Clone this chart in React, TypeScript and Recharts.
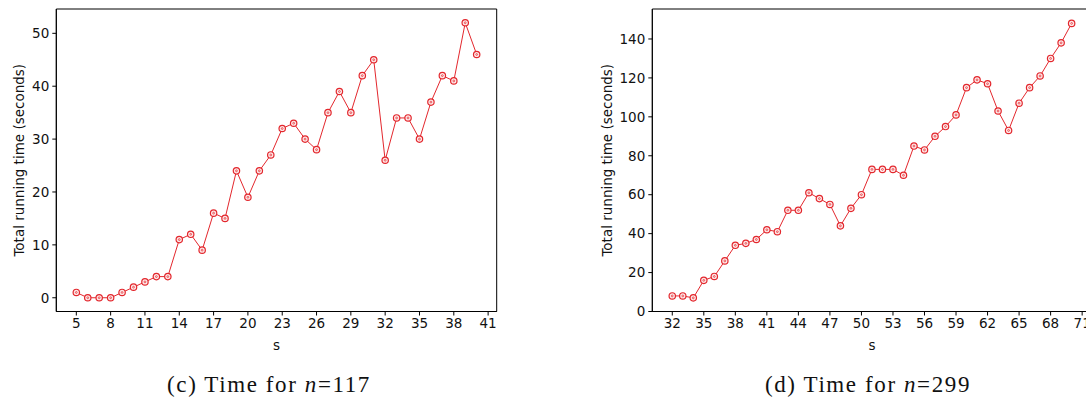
import React from 'react';
import { LineChart, Line, XAxis, YAxis, ReferenceArea } from 'recharts';

// Panel (c): n = 117
const sSmall = [5, 6, 7, 8, 9, 10, 11, 12, 13, 14, 15, 16, 17, 18, 19, 20, 21, 22, 23, 24, 25, 26, 27, 28, 29, 30, 31, 32, 33, 34, 35, 36, 37, 38, 39, 40];
const timeSmall = [1, 0, 0, 0, 1, 2, 3, 4, 4, 11, 12, 9, 16, 15, 24, 19, 24, 27, 32, 33, 30, 28, 35, 39, 35, 42, 45, 26, 34, 34, 30, 37, 42, 41, 52, 46];
const xTicksSmall = [5, 8, 11, 14, 17, 20, 23, 26, 29, 32, 35, 38, 41];
const yTicksSmall = [0, 10, 20, 30, 40, 50];

// Panel (d): n = 299
const sLarge = [32, 33, 34, 35, 36, 37, 38, 39, 40, 41, 42, 43, 44, 45, 46, 47, 48, 49, 50, 51, 52, 53, 54, 55, 56, 57, 58, 59, 60, 61, 62, 63, 64, 65, 66, 67, 68, 69, 70];
const timeLarge = [8, 8, 7, 16, 18, 26, 34, 35, 37, 42, 41, 52, 52, 61, 58, 55, 44, 53, 60, 73, 73, 73, 70, 85, 83, 90, 95, 101, 115, 119, 117, 103, 93, 107, 115, 121, 130, 138, 148];
const xTicksLarge = [32, 35, 38, 41, 44, 47, 50, 53, 56, 59, 62, 65, 68, 71];
const yTicksLarge = [0, 20, 40, 60, 80, 100, 120, 140];

const RED = '#e3272d';
const SANS = '"DejaVu Sans", sans-serif';
const SERIF = '"Liberation Serif", "DejaVu Serif", serif';

const toRows = (xs: number[], ys: number[]) => xs.map((s, i) => ({ s, t: ys[i] }));

function Marker(props: any) {
  const { cx, cy, index } = props;
  if (cx == null || cy == null) return null;
  return (
    <g key={`m-${index}`}>
      <circle cx={cx} cy={cy} r={3.2} fill="#fde6e6" stroke={RED} strokeWidth={1.2} />
      <circle cx={cx} cy={cy} r={0.9} fill="none" stroke={RED} strokeWidth={0.7} />
    </g>
  );
}

type PanelProps = {
  rows: { s: number; t: number }[];
  xDomain: [number, number];
  yDomain: [number, number];
  xTicks: number[];
  yTicks: number[];
  left: number;
  width: number;
  yAxisWidth: number;
  marginRight: number;
  yLabelX: number;
  caption: string;
  captionN: string;
  captionX: number;
};

function Panel(p: PanelProps) {
  const H = 402;
  return (
    <div style={{ position: 'absolute', left: p.left, top: 0, width: p.width, height: H }}>
      <LineChart
        width={p.width}
        height={H}
        data={p.rows}
        margin={{ top: 9, right: p.marginRight, left: 0, bottom: 50.5 }}
      >
        <ReferenceArea
          x1={p.xDomain[0]}
          x2={p.xDomain[1]}
          y1={p.yDomain[0]}
          y2={p.yDomain[1]}
          fill="none"
          stroke="#000"
          strokeWidth={1}
          fillOpacity={0}
          strokeOpacity={1}
          ifOverflow="visible"
        />
        <XAxis
          dataKey="s"
          type="number"
          domain={p.xDomain}
          ticks={p.xTicks}
          allowDataOverflow
          height={40}
          tickSize={4}
          tickMargin={3}
          axisLine={{ stroke: '#000' }}
          tickLine={{ stroke: '#000' }}
          tick={{ fill: '#111', fontSize: 13.5, fontFamily: SANS }}
          label={{
            content: (lp: any) => {
              const vb = lp.viewBox || {};
              return (
                <text x={vb.x + vb.width / 2} y={vb.y + 38.5} textAnchor="middle" fill="#111" fontSize={13.5} fontFamily={SANS}>
                  s
                </text>
              );
            },
          }}
        />
        <YAxis
          type="number"
          domain={p.yDomain}
          ticks={p.yTicks}
          allowDataOverflow
          width={p.yAxisWidth}
          tickSize={4}
          tickMargin={3}
          axisLine={{ stroke: '#000' }}
          tickLine={{ stroke: '#000' }}
          tick={{ fill: '#111', fontSize: 13.5, fontFamily: SANS }}
          label={{
            content: (lp: any) => {
              const vb = lp.viewBox || {};
              const x = p.yLabelX;
              const y = vb.y + vb.height / 2;
              return (
                <text
                  x={x}
                  y={y}
                  transform={`rotate(-90, ${x}, ${y})`}
                  textAnchor="middle"
                  dominantBaseline="central"
                  fill="#111"
                  fontSize={13.5}
                  fontFamily={SANS}
                >
                  Total running time (seconds)
                </text>
              );
            },
          }}
        />
        <Line
          dataKey="t"
          stroke={RED}
          strokeWidth={1}
          dot={<Marker />}
          activeDot={false}
          isAnimationActive={false}
        />
      </LineChart>
      <div
        style={{
          position: 'absolute',
          left: p.captionX - 150,
          width: 300,
          top: 372,
          textAlign: 'center',
          fontFamily: SERIF,
          fontSize: 23,
          letterSpacing: 1.6,
          color: '#111',
          whiteSpace: 'nowrap',
        }}
      >
        {p.caption} <i>n</i>={p.captionN}
      </div>
    </div>
  );
}

export default function App() {
  return (
    <div
      style={{
        position: 'absolute',
        left: 0,
        top: 0,
        width: 1086,
        height: 402,
        overflow: 'hidden',
        background: '#fff',
      }}
    >
      <Panel
        rows={toRows(sSmall, timeSmall)}
        xDomain={[3.25, 41.75]}
        yDomain={[-2.6, 54.6]}
        xTicks={xTicksSmall}
        yTicks={yTicksSmall}
        left={0}
        width={520}
        yAxisWidth={56.3}
        marginRight={23.3}
        yLabelX={19}
        caption="(c) Time for"
        captionN="117"
        captionX={269}
      />
      <Panel
        rows={toRows(sLarge, timeLarge)}
        xDomain={[30.1, 71.9]}
        yDomain={[0, 155.4]}
        xTicks={xTicksLarge}
        yTicks={yTicksLarge}
        left={580}
        width={522}
        yAxisWidth={72.3}
        marginRight={10.4}
        yLabelX={26.7}
        caption="(d) Time for"
        captionN="299"
        captionX={868 - 580}
      />
    </div>
  );
}
